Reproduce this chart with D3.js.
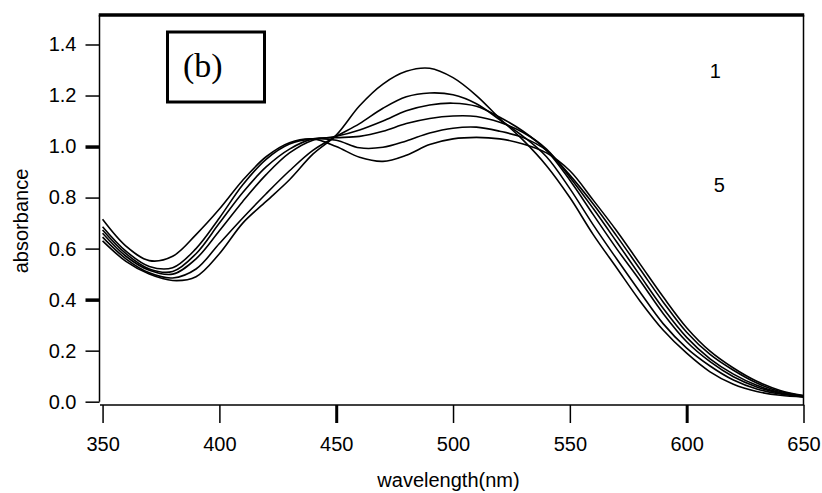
<!DOCTYPE html>
<html>
<head>
<meta charset="utf-8">
<script src="https://cdn.jsdelivr.net/npm/d3@7"></script>
<style>
  html, body { margin: 0; padding: 0; background: #fff; }
  svg { display: block; }
  text { font-family: "Liberation Sans", Arial, sans-serif; fill: #000; }
</style>
</head>
<body>
<svg id="chart" width="822" height="493"></svg>
<script>
// ---------------- data ----------------
const wavelengths = [350,360,370,380,390,400,410,420,430,440,450,460,470,480,490,500,510,520,530,540,550,560,570,580,590,600,610,620,630,640,650];

const series1 = [0.630,0.550,0.500,0.475,0.490,0.580,0.700,0.785,0.870,0.970,1.045,1.160,1.245,1.295,1.307,1.270,1.200,1.110,1.025,0.925,0.800,0.655,0.525,0.395,0.280,0.190,0.117,0.068,0.040,0.025,0.018];
const series2 = [0.645,0.560,0.505,0.485,0.520,0.620,0.720,0.815,0.905,0.985,1.040,1.090,1.150,1.195,1.210,1.203,1.168,1.105,1.040,0.960,0.835,0.693,0.560,0.430,0.305,0.210,0.140,0.085,0.050,0.030,0.020];
const series3 = [0.660,0.570,0.515,0.500,0.560,0.670,0.785,0.890,0.975,1.025,1.040,1.065,1.100,1.140,1.163,1.170,1.158,1.115,1.060,0.985,0.868,0.733,0.600,0.475,0.345,0.235,0.157,0.098,0.058,0.033,0.021];
const series4 = [0.673,0.580,0.520,0.510,0.580,0.700,0.820,0.920,0.990,1.030,1.035,1.040,1.060,1.090,1.110,1.120,1.118,1.095,1.055,0.990,0.880,0.757,0.627,0.495,0.365,0.252,0.168,0.108,0.064,0.036,0.022];
const series5 = [0.686,0.590,0.530,0.525,0.600,0.720,0.850,0.950,1.010,1.030,1.025,0.995,0.997,1.022,1.053,1.072,1.076,1.060,1.035,0.985,0.888,0.775,0.650,0.520,0.390,0.272,0.185,0.123,0.073,0.040,0.023];
const series6 = [0.715,0.610,0.553,0.570,0.655,0.755,0.868,0.960,1.015,1.030,1.000,0.958,0.942,0.966,1.008,1.030,1.036,1.030,1.010,0.975,0.905,0.790,0.670,0.540,0.410,0.290,0.198,0.132,0.080,0.044,0.024];

const allSeries = [series1, series2, series3, series4, series5, series6];

const xTicks = [350,400,450,500,550,600,650];
const xThickTicks = [450,600];
const yTicks = [0.0,0.2,0.4,0.6,0.8,1.0,1.2,1.4];
const yThickTicks = [0.4,1.0];

const panelLabel = "(b)";
const curveLabels = [{text:"1", wl:612.3, v:1.27}, {text:"5", wl:614, v:0.82}];

// ---------------- layout ----------------
const svg = d3.select("#chart");
const pLeft = 100, pRight = 803.5, pTop = 15, pBottom = 405;

const x = d3.scaleLinear().domain([348.9, 650]).range([pLeft, pRight]);
const y = d3.scaleLinear().domain([-0.013, 1.5156]).range([pBottom, pTop]);

// x axis
const xAxis = d3.axisBottom(x).tickValues(xTicks).tickSize(18).tickPadding(14)
  .tickFormat(d3.format("d"));
const gx = svg.append("g").attr("transform", `translate(0,${pBottom})`).call(xAxis);
gx.select(".domain").remove();
gx.selectAll(".tick line").attr("stroke", "#000")
  .attr("stroke-width", d => xThickTicks.includes(d) ? 3 : 1.5);
gx.selectAll(".tick text").attr("font-size", 20).attr("font-family", "Liberation Sans, Arial, sans-serif");

// y axis
const yAxis = d3.axisLeft(y).tickValues(yTicks).tickSize(14).tickPadding(9)
  .tickFormat(d3.format(".1f"));
const gy = svg.append("g").attr("transform", `translate(${pLeft - 0.5},0)`).call(yAxis);
gy.select(".domain").remove();
gy.selectAll(".tick line").attr("stroke", "#000")
  .attr("stroke-width", d => yThickTicks.includes(d) ? 3.5 : 1.5);
gy.selectAll(".tick text").attr("font-size", 20).attr("font-family", "Liberation Sans, Arial, sans-serif");

// frame lines
svg.append("line").attr("x1", pLeft - 0.5).attr("x2", pLeft - 0.5).attr("y1", pTop).attr("y2", y(0))
  .attr("stroke", "#000").attr("stroke-width", 1.5);
svg.append("line").attr("x1", pLeft).attr("x2", pRight + 0.75).attr("y1", pBottom).attr("y2", pBottom)
  .attr("stroke", "#000").attr("stroke-width", 1.5);
svg.append("line").attr("x1", pRight).attr("x2", pRight).attr("y1", pTop).attr("y2", pBottom)
  .attr("stroke", "#000").attr("stroke-width", 1.5);
svg.append("line").attr("x1", pLeft - 1.25).attr("x2", pRight + 0.75).attr("y1", pTop).attr("y2", pTop)
  .attr("stroke", "#000").attr("stroke-width", 3.5);

// curves
const line = d3.line()
  .x((d, i) => x(wavelengths[i]))
  .y(d => y(d))
  .curve(d3.curveCatmullRom.alpha(0.5));

svg.append("g").selectAll("path").data(allSeries).join("path")
  .attr("d", d => line(d))
  .attr("fill", "none").attr("stroke", "#000").attr("stroke-width", 1.6);

// panel label box
svg.append("rect").attr("x", 167.5).attr("y", 32).attr("width", 97).attr("height", 70)
  .attr("fill", "none").attr("stroke", "#000").attr("stroke-width", 3);
svg.append("text").attr("x", 183).attr("y", 77).text(panelLabel)
  .attr("font-size", 34)
  .style("font-family", "'Liberation Serif', 'Times New Roman', serif");

// curve number labels
svg.append("g").selectAll("text").data(curveLabels).join("text")
  .attr("x", d => x(d.wl)).attr("y", d => y(d.v))
  .attr("text-anchor", "middle").attr("font-size", 20).text(d => d.text);

// axis titles
svg.append("text").attr("x", 448.5).attr("y", 487).attr("text-anchor", "middle")
  .attr("font-size", 20).text("wavelength(nm)");
svg.append("text").attr("transform", "translate(28,221) rotate(-90)").attr("text-anchor", "middle")
  .attr("font-size", 20).text("absorbance");
</script>
</body>
</html>
